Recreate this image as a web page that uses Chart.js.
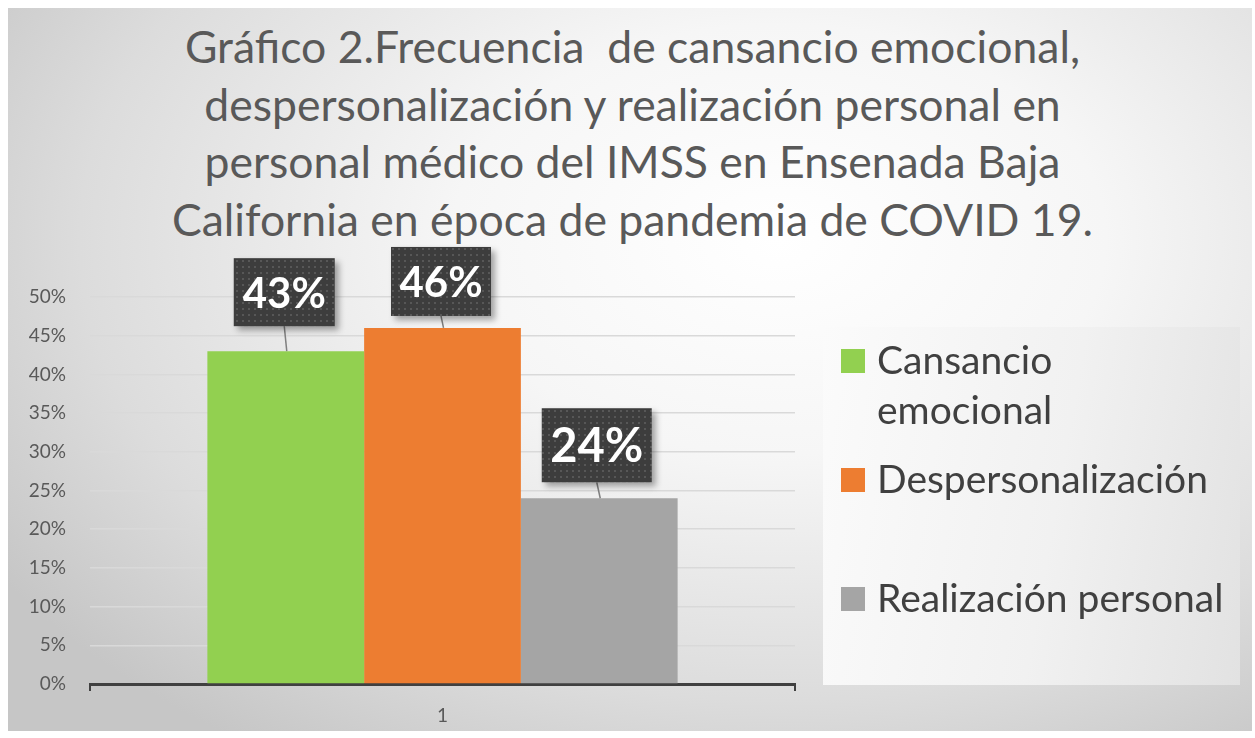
<!DOCTYPE html>
<html>
<head>
<meta charset="utf-8">
<script src="https://cdn.jsdelivr.net/npm/chart.js@4"></script>
<style>
  html, body { margin: 0; padding: 0; background: #fff; }
  #wrap { position: relative; width: 1255px; height: 738px; overflow: hidden; }
  #bg { position: absolute; left: 8px; top: 8px; width: 1244px; height: 723px;
        background: radial-gradient(ellipse 75% 85% at 62% 32%, #ffffff 0%, #f6f6f6 35%, #dcdcdc 75%, #c6c6c6 100%); }
  #legbox { position: absolute; left: 823px; top: 327px; width: 417px; height: 358px;
        background: linear-gradient(100deg, #fbfbfb 0%, #f1f1f1 55%, #e2e2e2 100%); }
  #title { position: absolute; left: 0; top: 17px; width: 1265px; text-align: center;
        font-family: Lato, "Open Sans", sans-serif; font-size: 44.5px; line-height: 57.5px; color: #595959; }
  canvas { position: absolute; left: 0; top: 0; }
</style>
</head>
<body>
<div id="wrap">
  <div id="bg"></div>
  <div id="legbox"></div>
  <div id="title">Gráfico 2.Frecuencia&nbsp; de cansancio emocional,<br>despersonalización y realización personal en<br>personal médico del IMSS en Ensenada Baja<br>California en época de pandemia de COVID 19.</div>
  <canvas id="c" width="1255" height="738"></canvas>
</div>
<script>
const categories = ['1'];
const seriesNames = [['Cansancio', 'emocional'], ['Despersonalización'], ['Realización personal']];
const seriesValues = [[43], [46], [24]];
const seriesColors = ['#92d050', '#ed7d31', '#a5a5a5'];
const yTicks = [0, 5, 10, 15, 20, 25, 30, 35, 40, 45, 50];
// label box styling per series: gap above bar, box size, font size
const labelGap = [25, 12, 16];
const labelShiftX = [-1.5, -1.5, -2.5];
const labelBox = [[101, 68], [100, 69], [110, 74]];
const labelFont = [42, 42, 47];

function dotPattern(ctx) {
  const p = document.createElement('canvas');
  p.width = 6; p.height = 6;
  const pc = p.getContext('2d');
  pc.fillStyle = '#3d3d3d';
  pc.fillRect(0, 0, 6, 6);
  pc.fillStyle = '#575757';
  pc.fillRect(2, 2, 2, 2);
  return ctx.createPattern(p, 'repeat');
}

const barLabels = {
  id: 'barLabels',
  afterDatasetsDraw(chart) {
    const ctx = chart.ctx;
    const pat = dotPattern(ctx);
    chart.data.datasets.forEach((ds, i) => {
      const bar = chart.getDatasetMeta(i).data[0];
      const text = ds.data[0] + '%';
      ctx.save();
      ctx.font = 'bold ' + labelFont[i] + 'px Lato, "Open Sans", sans-serif';
      const w = labelBox[i][0], h = labelBox[i][1];
      const cx = bar.x + labelShiftX[i];
      const bottom = bar.y - labelGap[i];
      const x0 = cx - w / 2, y0 = bottom - h;
      // leader line
      ctx.strokeStyle = '#7f7f7f';
      ctx.lineWidth = 1.5;
      ctx.beginPath();
      ctx.moveTo(cx, bottom);
      ctx.lineTo(bar.x + 1, bar.y);
      ctx.stroke();
      // box with shadow
      ctx.shadowColor = 'rgba(0,0,0,0.35)';
      ctx.shadowBlur = 6;
      ctx.shadowOffsetX = 4;
      ctx.shadowOffsetY = 4;
      ctx.fillStyle = pat;
      ctx.fillRect(x0, y0, w, h);
      ctx.shadowColor = 'transparent';
      ctx.fillStyle = '#ffffff';
      ctx.textAlign = 'center';
      ctx.textBaseline = 'middle';
      ctx.fillText(text, cx, y0 + h / 2 + 2);
      ctx.restore();
    });
  }
};

const sideLegend = {
  id: 'sideLegend',
  afterDraw(chart) {
    const ctx = chart.ctx;
    ctx.save();
    ctx.font = '39px Lato, "Open Sans", sans-serif';
    ctx.textBaseline = 'middle';
    chart.data.datasets.forEach((ds, i) => {
      const top = 349 + i * 119;
      ctx.fillStyle = ds.backgroundColor;
      ctx.fillRect(841, top, 24, 24);
      ctx.fillStyle = '#404040';
      seriesNames[i].forEach((line, j) => {
        ctx.fillText(line, 877, top + 12 + j * 50);
      });
    });
    ctx.restore();
  }
};

new Chart(document.getElementById('c'), {
  type: 'bar',
  data: {
    labels: categories,
    datasets: seriesValues.map((v, i) => ({
      label: seriesNames[i].join(' '),
      data: v,
      backgroundColor: seriesColors[i],
      barPercentage: 1,
      categoryPercentage: 0.667
    }))
  },
  options: {
    responsive: false,
    animation: false,
    layout: { padding: { left: 8, right: 460, top: 297, bottom: 8 } },
    plugins: { legend: { display: false }, title: { display: false }, tooltip: { enabled: false } },
    scales: {
      x: {
        grid: { drawOnChartArea: false, drawTicks: true, tickLength: 7, color: '#404040', lineWidth: 2 },
        border: { display: true, color: '#404040', width: 3 },
        ticks: { color: '#595959', font: { size: 19, family: 'Lato, "Open Sans", sans-serif' }, padding: 13 },
        afterFit(scale) { scale.height = 46; }
      },
      y: {
        min: 0,
        max: 50,
        afterBuildTicks(scale) { scale.ticks = yTicks.map(v => ({ value: v })); },
        grid: { color: '#d9d9d9', lineWidth: 1.5, drawTicks: false },
        border: { display: false },
        ticks: {
          color: '#595959',
          font: { size: 19, family: 'Lato, "Open Sans", sans-serif' },
          padding: 24,
          callback: v => v + '%'
        },
        afterFit(scale) { scale.width = 82; }
      }
    }
  },
  plugins: [barLabels, sideLegend]
});
</script>
</body>
</html>
